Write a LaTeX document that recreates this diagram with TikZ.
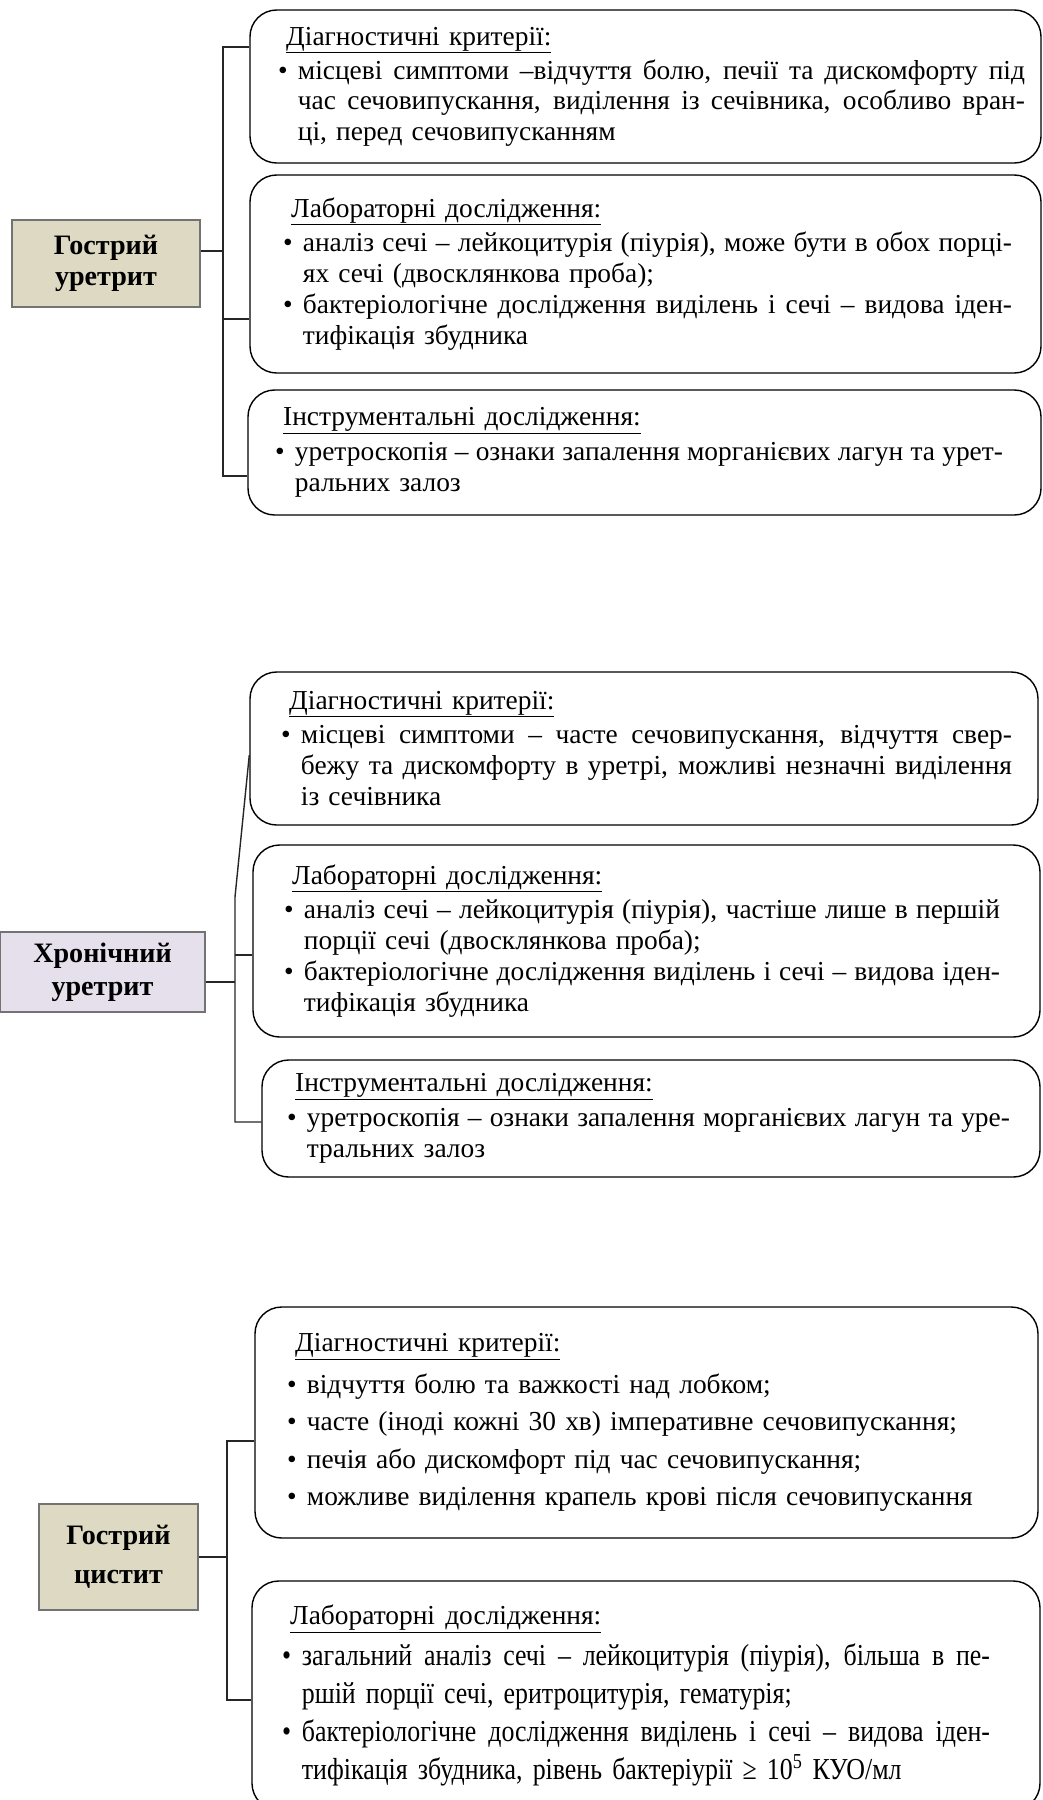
\documentclass[tikz,border=0pt]{standalone}
\usepackage{fontspec}
\setmainfont{Liberation Serif}
\newfontfamily\narrowserif[FakeStretch=0.85]{Liberation Serif}

\definecolor{tanfill}{HTML}{DDD9C3}
\definecolor{lilacfill}{HTML}{E5E0EC}

\newlength{\jwd}
\newcommand{\hd}[1]{\hspace*{7pt}\underline{#1}}
\newcommand{\bl}{\makebox[17pt][l]{\textbullet}}
\newcommand{\ind}{\hspace*{17pt}}
\newcommand{\jl}[1]{{\spaceskip=\fontdimen2\font plus 1fil minus 0.3\fontdimen2\font
  \makebox[\dimexpr\jwd-17pt\relax][s]{#1}}}

\begin{document}
\begin{tikzpicture}[
    disease/.style={rectangle, draw=black!55, line width=1.6pt, align=center, font=\fontsize{24}{27}\selectfont\bfseries},
    infobox/.style={rectangle, rounded corners=0.8cm, draw=black, line width=1.2pt, fill=white, align=left, inner sep=0pt, font=\fontsize{23.4}{26.5}\selectfont},
    jw/.style={execute at begin node={\setlength{\jwd}{#1}}},
    link/.style={draw=black!85, line width=1.2pt}
]
\useasboundingbox (0,0) rectangle (31.29,-54);

% Acute urethritis
\node (acuteU) [disease, fill=tanfill, minimum width=5.64cm, minimum height=2.61cm] at (3.18,-7.905) {Гострий\\уретрит};

\node (criteriaA) [infobox, text width=22.05cm, jw=22.41cm, minimum width=23.73cm, minimum height=4.59cm, font=\fontsize{23.4}{26}\selectfont] at (19.365,-2.595) {%
\hd{Діагностичні критерії:}\\[3pt]
\bl\jl{місцеві симптоми –відчуття болю, печії та дискомфорту під}\\
\ind\jl{час сечовипускання, виділення із сечівника, особливо вран-}\\
\ind ці, перед сечовипусканням};

\node (labA) [infobox, text width=21.75cm, jw=21.87cm, minimum width=23.73cm, minimum height=5.94cm] at (19.365,-8.22) {%
\hd{Лабораторні дослідження:}\\[3pt]
\bl\jl{аналіз сечі – лейкоцитурія (піурія), може бути в обох порці-}\\
\ind ях сечі (двосклянкова проба);\\
\bl\jl{бактеріологічне дослідження виділень і сечі – видова іден-}\\
\ind тифікація збудника};

\node (instrA) [infobox, text width=22.17cm, jw=21.84cm, minimum width=23.79cm, minimum height=3.75cm] at (19.335,-13.575) {%
\hd{Інструментальні дослідження:}\\[3pt]
\bl\jl{уретроскопія – ознаки запалення морганієвих лагун та урет-}\\
\ind ральних залоз};

% Chronic urethritis
\node (chronU) [disease, fill=lilacfill, minimum width=6.15cm, minimum height=2.4cm, font=\fontsize{24}{28}\selectfont\bfseries] at (3.075,-29.16) {Хронічний\\уретрит};

\node (criteriaB) [infobox, text width=21.78cm, jw=21.93cm, minimum width=23.64cm, minimum height=4.59cm] at (19.32,-22.455) {%
\hd{Діагностичні критерії:}\\[3pt]
\bl\jl{місцеві симптоми – часте сечовипускання, відчуття свер-}\\
\ind\jl{бежу та дискомфорту в уретрі, можливі незначні виділення}\\
\ind із сечівника};

\node (labB) [infobox, text width=21.75cm, jw=21.48cm, minimum width=23.61cm, minimum height=5.76cm] at (19.395,-28.23) {%
\hd{Лабораторні дослідження:}\\[3pt]
\bl\jl{аналіз сечі – лейкоцитурія (піурія), частіше лише в першій}\\
\ind порції сечі (двосклянкова проба);\\
\bl\jl{бактеріологічне дослідження виділень і сечі – видова іден-}\\
\ind тифікація збудника};

\node (instrB) [infobox, text width=21.84cm, jw=21.69cm, minimum width=23.34cm, minimum height=3.51cm] at (19.53,-33.555) {%
\hd{Інструментальні дослідження:}\\[3pt]
\bl\jl{уретроскопія – ознаки запалення морганієвих лагун та уре-}\\
\ind тральних залоз};

% Acute cystitis
\node (acuteC) [disease, fill=tanfill, minimum width=4.77cm, minimum height=3.18cm, font=\fontsize{24}{33}\selectfont\bfseries] at (3.555,-46.71) {Гострий\\цистит};

\node (criteriaC) [infobox, text width=21.57cm, minimum width=23.49cm, minimum height=6.93cm, font=\fontsize{23.4}{32}\selectfont] at (19.395,-42.675) {%
\hd{Діагностичні критерії:}\\[4pt]
\bl відчуття болю та важкості над лобком;\\
\bl часте (іноді кожні 30 хв) імперативне сечовипускання;\\
\bl печія або дискомфорт під час сечовипускання;\\
\bl можливе виділення крапель крові після сечовипускання};

\node (labC) [infobox, text width=21.84cm, jw=21.24cm, minimum width=23.64cm, minimum height=6.87cm, font=\narrowserif\fontsize{26}{32.4}\selectfont] at (19.38,-50.865) {%
{\rmfamily\fontsize{23.4}{32.4}\selectfont\hd{Лабораторні дослідження:}}\\[2pt]
\bl\jl{загальний аналіз сечі – лейкоцитурія (піурія), більша в пе-}\\
\ind ршій порції сечі, еритроцитурія, гематурія;\\
\bl\jl{бактеріологічне дослідження виділень і сечі – видова іден-}\\
\ind тифікація збудника, рівень бактеріурії ≥ 10\textsuperscript{5} КУО/мл};

% Brackets
\coordinate (hubA) at (6.69,-7.53);
\coordinate (topA) at (6.69,-1.41);
\coordinate (midA) at (6.69,-9.57);
\coordinate (botA) at (6.69,-14.28);
\draw[link] (acuteU.east |- hubA) -- (hubA);
\draw[link] (topA -| criteriaA.west) -- (topA) -- (botA) -- (botA -| instrA.west);
\draw[link] (midA) -- (midA -| labA.west);

\coordinate (hubB) at (7.05,-29.46);
\coordinate (tipB) at (7.5,-22.65);
\coordinate (topB) at (7.05,-26.91);
\coordinate (midB) at (7.05,-28.65);
\coordinate (botB) at (7.05,-33.66);
\draw[link] (chronU.east |- hubB) -- (hubB);
\draw[link] (tipB -| criteriaB.west) -- (topB) -- (botB) -- (botB -| instrB.west);
\draw[link] (midB) -- (midB -| labB.west);

\coordinate (hubC) at (6.81,-46.71);
\coordinate (topC) at (6.81,-43.23);
\coordinate (botC) at (6.81,-51.0);
\draw[link] (acuteC) -- (hubC);
\draw[link] (topC -| criteriaC.west) -- (topC) -- (botC) -- (botC -| labC.west);

\end{tikzpicture}
\end{document}
